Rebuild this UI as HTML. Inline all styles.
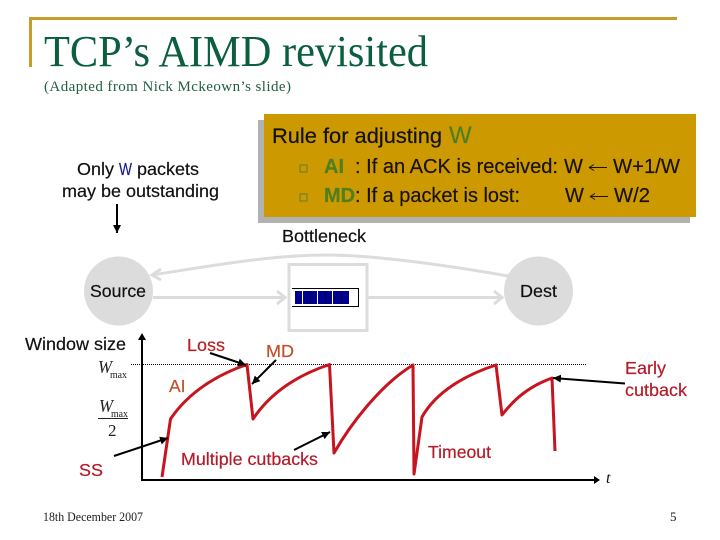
<!DOCTYPE html>
<html><head><meta charset="utf-8"><style>
html,body{margin:0;padding:0;background:#fff;width:720px;height:540px;overflow:hidden}
svg{display:block}
.s{font-family:"Liberation Sans",sans-serif;stroke:currentColor;stroke-width:.2px}
.f{font-family:"Liberation Serif",serif}
</style></head><body>
<svg width="720" height="540" viewBox="0 0 720 540" xmlns="http://www.w3.org/2000/svg">
<defs>
<marker id="k" markerUnits="userSpaceOnUse" markerWidth="10" markerHeight="10" refX="8" refY="4" orient="auto"><path d="M0 0L8 4L0 8Z" fill="#000"/></marker>
</defs>
<rect width="720" height="540" fill="#fff"/>
<path d="M30.500 67V18.500H677" fill="none" stroke="#c89b2c" stroke-width="3"/>
<text class="f" x="44" y="66" font-size="44" fill="#0b5f3f" textLength="384" lengthAdjust="spacingAndGlyphs">TCP’s AIMD revisited</text>
<text class="f" x="44" y="91" font-size="15" fill="#245f45" textLength="247" lengthAdjust="spacing">(Adapted from Nick Mckeown’s slide)</text>

<rect x="258" y="120" width="432" height="103" fill="#b2b2b2"/>
<rect x="264" y="114" width="432" height="103" fill="#cc9900"/>
<text class="s" x="272" y="143" font-size="21.500" fill="#111" color="#111" textLength="170" lengthAdjust="spacingAndGlyphs">Rule for adjusting</text>
<text class="s" x="449" y="143" font-size="24" fill="#4f7f1f" color="#4f7f1f">W</text>
<rect x="300" y="165" width="7" height="7" fill="none" stroke="#5f7f30" stroke-width="1"/>
<rect x="300" y="194" width="7" height="7" fill="none" stroke="#5f7f30" stroke-width="1"/>
<text class="s" x="324" y="173" font-size="20" font-weight="bold" fill="#4f7f1f" color="#4f7f1f">AI</text>
<text class="s" x="355" y="173" font-size="20" fill="#1a1208" color="#1a1208" textLength="203" lengthAdjust="spacingAndGlyphs">: If an ACK is received:</text>
<text class="s" x="564" y="173" font-size="20" fill="#1a1208" color="#1a1208">W</text>
<path d="M589 167.500H607M589 167.500L594 164.500M589 167.500L594 170.500" fill="none" stroke="#1a1208" stroke-width="1"/>
<text class="s" x="613" y="173" font-size="20" fill="#1a1208" color="#1a1208" textLength="67" lengthAdjust="spacingAndGlyphs">W+1/W</text>
<text class="s" x="324" y="202" font-size="20" font-weight="bold" fill="#4f7f1f" color="#4f7f1f" textLength="31" lengthAdjust="spacingAndGlyphs">MD</text>
<text class="s" x="355" y="202" font-size="20" fill="#1a1208" color="#1a1208" textLength="165" lengthAdjust="spacingAndGlyphs">: If a packet is lost:</text>
<text class="s" x="565" y="202" font-size="20" fill="#1a1208" color="#1a1208">W</text>
<path d="M590 196.500H608M590 196.500L595 193.500M590 196.500L595 199.500" fill="none" stroke="#1a1208" stroke-width="1"/>
<text class="s" x="614" y="202" font-size="20" fill="#1a1208" color="#1a1208" textLength="36" lengthAdjust="spacingAndGlyphs">W/2</text>

<text class="s" x="77" y="175" font-size="17.500" fill="#111" color="#111" textLength="37" lengthAdjust="spacingAndGlyphs">Only</text>
<text class="s" x="119" y="175" font-size="17.500" fill="#1a1a8c" color="#1a1a8c" textLength="13" lengthAdjust="spacingAndGlyphs">W</text>
<text class="s" x="137" y="175" font-size="17.500" fill="#111" color="#111" textLength="62" lengthAdjust="spacingAndGlyphs">packets</text>
<text class="s" x="62" y="197" font-size="17.500" fill="#111" color="#111" textLength="157" lengthAdjust="spacingAndGlyphs">may be outstanding</text>
<path d="M117 204V233" stroke="#000" stroke-width="2" marker-end="url(#k)"/>
<text class="s" x="282" y="242" font-size="17.500" fill="#111" color="#111" textLength="84" lengthAdjust="spacingAndGlyphs">Bottleneck</text>

<circle cx="118.500" cy="291" r="34.500" fill="#dcdcdc"/>
<circle cx="538.500" cy="291" r="34.500" fill="#dcdcdc"/>
<text class="s" x="90" y="297" font-size="17.500" fill="#111" color="#111" textLength="56" lengthAdjust="spacingAndGlyphs">Source</text>
<text class="s" x="520" y="297" font-size="17.500" fill="#111" color="#111" textLength="37" lengthAdjust="spacingAndGlyphs">Dest</text>
<rect x="289" y="264.500" width="78" height="66" fill="#fff" stroke="#dcdcdc" stroke-width="3"/>
<path d="M292 288.500H358.500V306.500H292" fill="none" stroke="#000" stroke-width="1"/>
<rect x="295" y="291" width="54" height="13" fill="#00008f"/>
<path d="M310.500 291v13M325.500 291v13M341.500 291v13" stroke="#000050" stroke-width="1"/>
<path d="M302.500 291v13M317.500 291v13M332.500 291v13" stroke="#fff" stroke-width="1"/>
<g fill="none" stroke="#dcdcdc" stroke-width="3">
<path d="M153 297.500H285M368 297.500H502"/>
<path d="M277 291L285 297.500L277 304M494 291L502 297.500L494 304"/>
<path d="M508 276C440 264 370 255 327 255C270 255 210 266 152 275"/>
<path d="M161 269L152 275L161 280"/>
</g>

<text class="s" x="25" y="350" font-size="17.500" fill="#111" color="#111" textLength="101" lengthAdjust="spacingAndGlyphs">Window size</text>
<path d="M142 480V338M141 480H596" fill="none" stroke="#000" stroke-width="2"/>
<path d="M142 333L146 340H138Z" fill="#000"/>
<path d="M600 480L594 476V484Z" fill="#000"/>
<path d="M131 364.500H587" stroke="#000" stroke-width="1" stroke-dasharray="1 1"/>
<text class="f" x="98" y="373" font-size="18" font-style="italic" fill="#222" textLength="14" lengthAdjust="spacingAndGlyphs">W</text>
<text class="f" x="110" y="378" font-size="10" fill="#222" textLength="17" lengthAdjust="spacingAndGlyphs">max</text>
<text class="f" x="99" y="412" font-size="18" font-style="italic" fill="#222" textLength="14" lengthAdjust="spacingAndGlyphs">W</text>
<text class="f" x="111" y="417" font-size="10" fill="#222" textLength="17" lengthAdjust="spacingAndGlyphs">max</text>
<path d="M98 418.500H128" stroke="#222" stroke-width="1"/>
<text class="f" x="108" y="436" font-size="17" fill="#222">2</text>

<path d="M162 477L170.500 419C188 393 216 375 247 364.500L253 419C271 392 298 375 329.500 364.500L334 453C350 425 380 385 413 365L414 474L422 417C436 392 465 375 496 365L502 415C515 398 530 386 552 378L555 451" fill="none" stroke="#c8141e" stroke-width="3" stroke-linejoin="round"/>

<g stroke="#000" stroke-width="2" fill="none" marker-end="url(#k)">
<path d="M210 353L246 365"/>
<path d="M276 360L252 384"/>
<path d="M114 456L168 438"/>
<path d="M294 450L330 432"/>
<path d="M625 383.500L553 378"/>
</g>

<text class="s" x="187" y="351" font-size="17.500" fill="#b52020" color="#b52020" textLength="38" lengthAdjust="spacingAndGlyphs">Loss</text>
<text class="s" x="266" y="357" font-size="17.500" fill="#c0502a" color="#c0502a" textLength="28" lengthAdjust="spacingAndGlyphs">MD</text>
<text class="s" x="169" y="392" font-size="17.500" fill="#c0502a" color="#c0502a">AI</text>
<text class="s" x="79" y="476" font-size="17.500" fill="#b51a28" color="#b51a28" textLength="24" lengthAdjust="spacingAndGlyphs">SS</text>
<text class="s" x="181" y="465" font-size="17.500" fill="#b51a28" color="#b51a28" textLength="137" lengthAdjust="spacingAndGlyphs">Multiple cutbacks</text>
<text class="s" x="428" y="458" font-size="17.500" fill="#b51a28" color="#b51a28" textLength="63" lengthAdjust="spacingAndGlyphs">Timeout</text>
<text class="s" x="625" y="374" font-size="17.500" fill="#b51a28" color="#b51a28" textLength="41" lengthAdjust="spacingAndGlyphs">Early</text>
<text class="s" x="625" y="396" font-size="17.500" fill="#b51a28" color="#b51a28" textLength="62" lengthAdjust="spacingAndGlyphs">cutback</text>
<text class="f" x="606" y="483" font-size="16" font-style="italic" fill="#111">t</text>
<text class="f" x="43" y="521" font-size="13" fill="#222" textLength="100" lengthAdjust="spacingAndGlyphs">18th December 2007</text>
<text class="f" x="670" y="521" font-size="13" fill="#222">5</text>
</svg>
</body></html>
